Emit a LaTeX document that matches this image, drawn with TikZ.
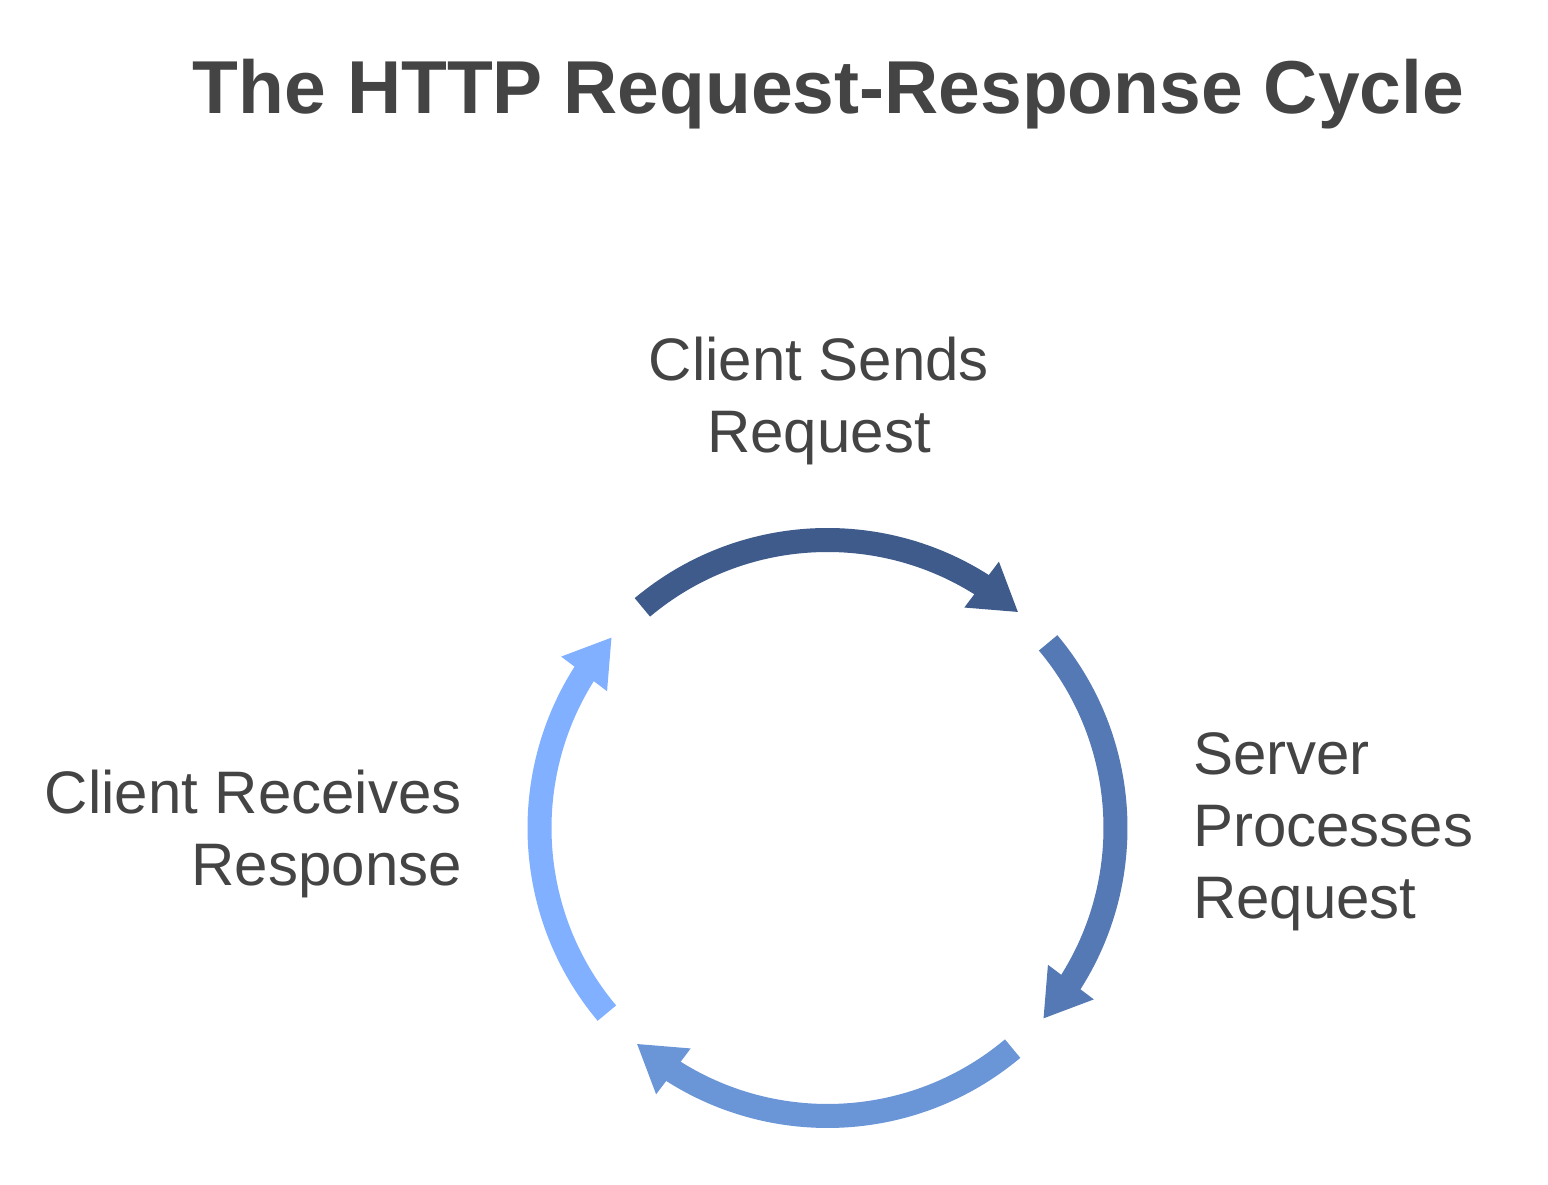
\documentclass[tikz,border=0pt]{standalone}
\usepackage{fontspec}
\setmainfont{Liberation Sans}
\usetikzlibrary{arrows.meta,bending,calc}
\definecolor{txt}{HTML}{444444}
\definecolor{cA}{HTML}{3E5B8B}
\definecolor{cB}{HTML}{5479B4}
\definecolor{cC}{HTML}{6A96D8}
\definecolor{cD}{HTML}{80B0FF}
\begin{document}
\begin{tikzpicture}[x=1pt,y=1pt,
  lbl/.style={text=txt,inner sep=0pt,font=\fontsize{60}{72}\selectfont},
  cyc/.style={line width=24pt,-{Triangle[length=46pt,width=54pt,flex]}},
  ]
\useasboundingbox (0,0) rectangle (1548,1185);
\fill[white] (0,0) rectangle (1548,1185);
\coordinate (c) at (827.5,357);
\node[text=txt,inner sep=0pt,anchor=base,font=\fontsize{75}{90}\selectfont\bfseries] (title) at (828.5,1071) {The HTTP Request-Response Cycle};
\node[lbl,anchor=base,align=center] (send) at (819,732) {Client Sends\\Request};
\node[lbl,anchor=base west,align=left] (proc) at (1193,266) {Server\\Processes\\Request};
\node[lbl,anchor=base east,align=right] (recv) at (462,299) {Client Receives\\Response};
\coordinate (sA) at ($(c)+(130:288)$);
\coordinate (sB) at ($(c)+(40:288)$);
\coordinate (sC) at ($(c)+(-50:288)$);
\coordinate (sD) at ($(c)+(220:288)$);
\draw[cyc,cA] (sA) arc[start angle=130,end angle=48.5,radius=288];
\draw[cyc,cB] (sB) arc[start angle=40,end angle=-41.5,radius=288];
\draw[cyc,cC] (sC) arc[start angle=-50,end angle=-131.5,radius=288];
\draw[cyc,cD] (sD) arc[start angle=220,end angle=138.5,radius=288];
\end{tikzpicture}
\end{document}
